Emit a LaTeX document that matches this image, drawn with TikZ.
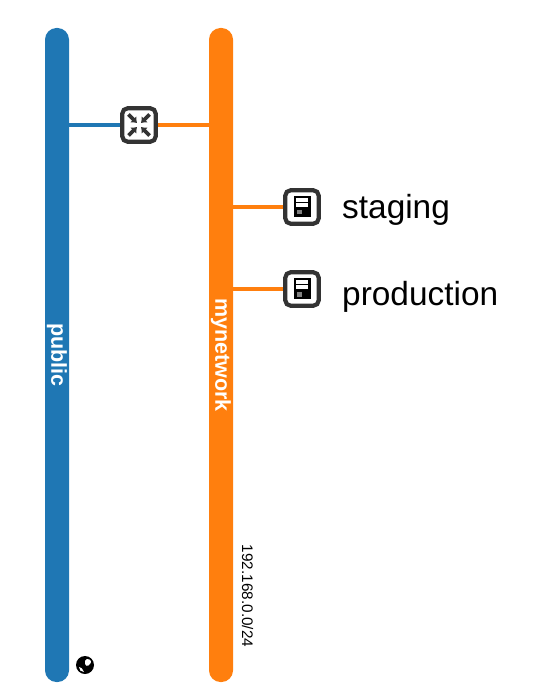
\documentclass[tikz,border=0pt]{standalone}
\usepackage{fontspec}
\setmainfont{Liberation Sans}
\usetikzlibrary{positioning, arrows.meta}

\definecolor{bleunet}{HTML}{1F77B4}
\definecolor{orangenet}{HTML}{FF7F0E}
\definecolor{grisicone}{HTML}{333333}

\tikzset{
  netbar/.style={fill=#1, rounded corners=11.5pt, rotate=-90, minimum width=654pt, minimum height=24pt,
    inner sep=0pt, text=white, font=\fontsize{21.5}{21.5}\selectfont\bfseries},
  iconbox/.style={draw=grisicone, fill=white, line width=4.2pt, rounded corners=5.5pt, minimum size=33.5pt, inner sep=0pt},
  netlink/.style={line width=3.4pt, #1},
  biglabel/.style={anchor=base west, inner sep=0pt, font=\fontsize{33.4}{33.4}\selectfont},
}

\begin{document}
\begin{tikzpicture}[x=1pt, y=-1pt]

\useasboundingbox (0,0) rectangle (534,700);

% Reseaux
\node[netbar=bleunet] (public) at (57,355) {public};
\node[netbar=orangenet] (mynetwork) at (221,355) {mynetwork};

% Sous-reseau
\node[rotate=-90, inner sep=0pt, font=\fontsize{15.3}{15.3}\selectfont] (subnet) at (247.5,596) {192.168.0.0/24};

% Globe
\node[circle, fill=black, minimum size=18pt, inner sep=0pt] (globe) at (85,665) {};
\fill[white] (87,659) .. controls (91,659) and (92,662) .. (90,664) .. controls (88,667) and (85,666) .. (85,663) .. controls (85,661) and (85,660) .. (87,659);
\fill[white] (79,667) .. controls (81,667) and (83,669) .. (84,672) .. controls (81,672) and (79,670) .. (79,667);

% Routeur
\node[iconbox] (router) at (139,125) {};
\foreach \sx/\sy in {-1/-1, 1/-1, -1/1, 1/1}
  \draw[grisicone, line width=3.6pt, -{Latex[length=5pt, width=9pt]}]
    ([shift={(\sx*10.5,\sy*10.5)}]router.center) -- ([shift={(\sx*2,\sy*2)}]router.center);

% Liens du routeur
\draw[netlink=bleunet] (router.west) -- (router.west -| public.north);
\draw[netlink=orangenet] (router.east) -- (router.east -| mynetwork.south);

% Serveurs
\foreach \nom/\yserv/\ybase in {staging/207/218.5, production/289/305} {
  \node[iconbox] (\nom) at (302,\yserv) {};
  \draw[netlink=orangenet] (\nom.west) -- (\nom.west -| mynetwork.north);
  \fill[black] (294,\yserv-11) rectangle (310.5,\yserv+10);
  \fill[white] (295.5,\yserv-9) rectangle (307.5,\yserv-5);
  \fill[white] (295.5,\yserv-4) rectangle (307.5,\yserv);
  \fill[gray] (297,\yserv+3) rectangle (302,\yserv+7.5);
  \node[biglabel] (label\nom) at (342,\ybase) {\nom};
}
\end{tikzpicture}
\end{document}
